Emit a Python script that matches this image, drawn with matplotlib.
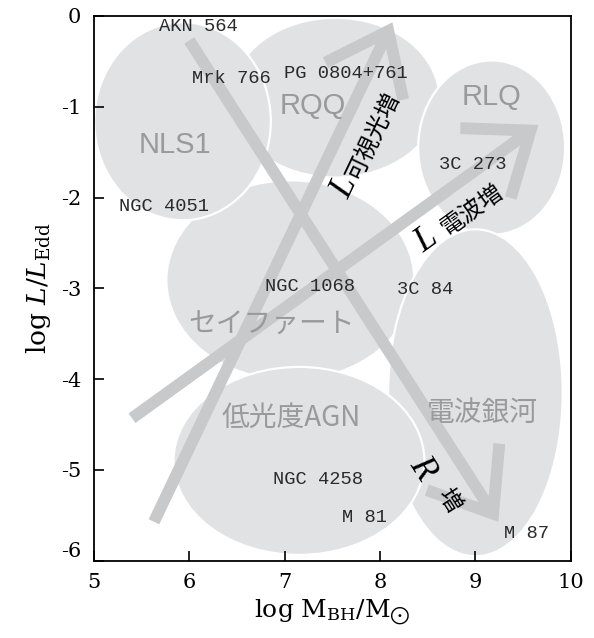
import numpy as np
import matplotlib
matplotlib.use("Agg")
import matplotlib.pyplot as plt
import matplotlib.transforms as mtransforms
from matplotlib.patches import Ellipse, FancyArrowPatch, ArrowStyle

plt.rcParams['axes.unicode_minus'] = False
plt.rcParams['mathtext.fontset'] = 'dejavuserif'
plt.rcParams['font.family'] = 'DejaVu Serif'

# AGN classes as regions in the (log M_BH, log L/L_Edd) plane, drawn bottom to top
region_names = ["RQQ", "RLQ", "セイファート", "電波銀河", "NLS1", "低光度AGN"]
region_x = [7.53, 9.17, 7.06, 9.00, 5.93, 7.15]
region_y = [-0.90, -1.45, -2.91, -4.15, -1.16, -4.90]
region_w = [2.18, 1.54, 2.60, 1.83, 1.85, 2.63]
region_h = [1.76, 1.92, 2.20, 3.60, 2.18, 2.07]
label_x = [7.29, 9.17, 6.86, 9.07, 5.85, 7.07]
label_y = [-0.99, -0.89, -3.40, -4.37, -1.42, -4.43]

# individual objects
obj_names = ["AKN 564", "Mrk 766", "PG 0804+761", "NGC 4051", "3C 273",
             "NGC 1068", "3C 84", "NGC 4258", "M 81", "M 87"]
obj_mass = [6.10, 6.44, 7.64, 5.74, 8.97, 7.27, 8.47, 7.35, 7.84, 9.54]
obj_edd = [-0.12, -0.69, -0.63, -2.10, -1.64, -2.98, -3.01, -5.11, -5.52, -5.70]

# trend arrows: R, L(optical), L(radio)
arrow_x0 = [6.00, 5.63, 5.40]
arrow_y0 = [-0.27, -5.57, -4.43]
arrow_x1 = [9.24, 8.13, 9.66]
arrow_y1 = [-5.57, -0.07, -1.20]
arrow_sym = ["R", "L", "L"]
arrow_txt = ["増", "可視光増", "電波増"]
sym_x = [8.44, 7.63, 8.49]
sym_y = [-4.98, -1.89, -2.47]
txt_x = [8.72, 7.94, 8.96]
txt_y = [-5.33, -1.33, -2.14]

cjk = ['Noto Sans CJK JP', 'DejaVu Sans']
fill_gray = '#e1e2e4'
arrow_gray = '#c8c9cb'
label_gray = '#999a9c'

fig, ax = plt.subplots(figsize=(5.94, 6.38), dpi=100)
fig.subplots_adjust(left=0.158, right=0.961, top=0.975, bottom=0.121)
ax.set_xlim(5, 10)
ax.set_ylim(-6, 0)

for i, name in enumerate(region_names):
    ax.add_patch(Ellipse((region_x[i], region_y[i]), region_w[i], region_h[i],
                         facecolor=fill_gray, edgecolor='white', lw=1.6, zorder=1))
    if name in ("NLS1", "RQQ", "RLQ"):
        fam, size = 'Liberation Sans', 21
    else:
        fam, size = cjk, 20
    ax.text(label_x[i], label_y[i], name, color=label_gray, fontsize=size,
            family=fam, ha='center', va='center', zorder=4)

for i in range(len(arrow_x0)):
    style = ArrowStyle("->", head_length=40, head_width=31)
    ax.add_patch(FancyArrowPatch((arrow_x0[i], arrow_y0[i]), (arrow_x1[i], arrow_y1[i]),
                                 arrowstyle=style, mutation_scale=1, lw=8.5,
                                 color=arrow_gray, shrinkA=0, shrinkB=0,
                                 capstyle='butt', joinstyle='miter', zorder=2))
    p0 = ax.transData.transform((arrow_x0[i], arrow_y0[i]))
    p1 = ax.transData.transform((arrow_x1[i], arrow_y1[i]))
    ang = np.degrees(np.arctan2(p1[1] - p0[1], p1[0] - p0[0]))
    ax.text(sym_x[i], sym_y[i], arrow_sym[i], family='Liberation Serif',
            style='italic', fontsize=25, rotation=ang, rotation_mode='anchor',
            ha='center', va='center', zorder=5)
    ax.text(txt_x[i], txt_y[i], arrow_txt[i], family=cjk, fontsize=17,
            rotation=ang, rotation_mode='anchor', ha='center', va='center', zorder=5)

for name, xm, ye in zip(obj_names, obj_mass, obj_edd):
    ax.text(xm, ye, name, family='Liberation Mono', fontsize=13.5, color='#2a2a2a',
            ha='center', va='center', zorder=5)

ax.set_xticks([5, 6, 7, 8, 9, 10])
ax.set_yticks([-6, -5, -4, -3, -2, -1, 0])
ax.tick_params(direction='in', length=7, width=1.2, labelsize=15, pad=9,
               top=False, right=False)
for s in ax.spines.values():
    s.set_linewidth(1.3)
    s.set_zorder(6)

# lift the bottom y label a little so it clears the "5"
lbl = ax.get_yticklabels()[0]
lbl.set_transform(lbl.get_transform() +
                  mtransforms.ScaledTranslation(0, 8 / 72, fig.dpi_scale_trans))

ax.set_xlabel(r"log M$_{\mathrm{BH}}$/M$_{\bigodot}$", fontsize=18, labelpad=4)
ax.set_ylabel(r"log $L/L_{\mathrm{Edd}}$", fontsize=19, labelpad=6)

plt.savefig("out.png", dpi=100)
